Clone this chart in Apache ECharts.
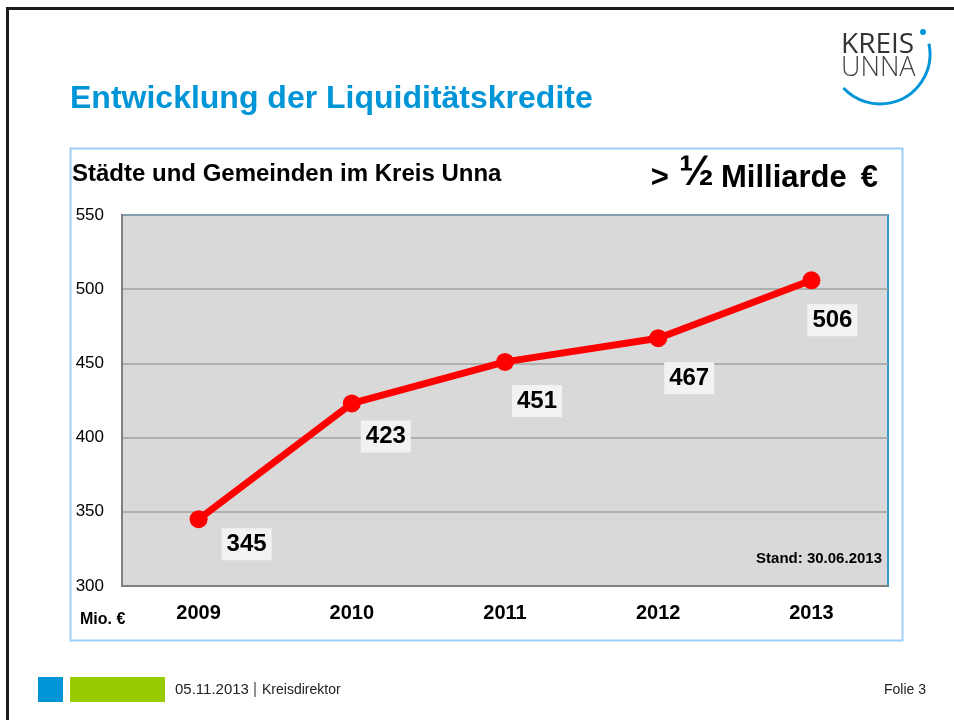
<!DOCTYPE html>
<html>
<head>
<meta charset="utf-8">
<script src="https://cdn.jsdelivr.net/npm/echarts@6/dist/echarts.min.js"></script>
<style>
  html, body { margin: 0; padding: 0; background: #fff; }
  #main { width: 954px; height: 720px; }
</style>
</head>
<body>
<div id="main"></div>
<script>
  // Jahre und Werte (Mio. €)
  var years = ['2009', '2010', '2011', '2012', '2013'];
  var kredite = [345, 423, 451, 467, 506];
  var yTicks = [300, 350, 400, 450, 500, 550];

  // Lage der Wertekästchen relativ zum Punkt
  var labelOffsets = [[48, 25], [34, 33], [32, 39], [31, 40], [21, 40]];

  var font = '"Liberation Sans", Arial, sans-serif';
  var blue = '#0095d6';

  var chart = echarts.init(document.getElementById('main'));

  var seriesData = kredite.map(function (v, i) {
    return {
      value: v,
      label: { offset: labelOffsets[i] }
    };
  });

  var option = {
    backgroundColor: '#fff',
    animation: false,
    grid: {
      left: 122, right: 66, top: 215, bottom: 134,
      show: true,
      backgroundColor: '#d9d9d9',
      borderColor: '#2f9ad4',
      borderWidth: 2
    },
    xAxis: {
      type: 'category',
      data: years,
      boundaryGap: true,
      axisLine: { lineStyle: { color: '#7f7f7f', width: 2 } },
      axisTick: { show: false },
      axisLabel: {
        margin: 17,
        color: '#000',
        fontFamily: font,
        fontWeight: 'bold',
        fontSize: 20
      }
    },
    yAxis: {
      type: 'value',
      min: yTicks[0],
      max: yTicks[yTicks.length - 1],
      interval: 50,
      axisLine: { show: true, lineStyle: { color: '#7f7f7f', width: 2 } },
      axisTick: { show: false },
      splitLine: { lineStyle: { color: '#a0a0a0', width: 1.5 } },
      axisLabel: {
        margin: 18,
        color: '#000',
        fontFamily: font,
        fontSize: 17
      }
    },
    series: [{
      type: 'line',
      data: seriesData,
      symbol: 'circle',
      symbolSize: 18,
      itemStyle: { color: '#ff0000' },
      lineStyle: { color: '#ff0000', width: 7 },
      label: {
        show: true,
        position: 'inside',
        color: '#000',
        fontFamily: font,
        fontWeight: 'bold',
        fontSize: 24,
        backgroundColor: '#f2f2f2',
        padding: [5, 5, 3, 5]
      },
      z: 5
    }],
    graphic: [
      // Folienrahmen
      { type: 'line', shape: { x1: 7.5, y1: 8, x2: 7.5, y2: 720 }, style: { stroke: '#1a1a1a', lineWidth: 3 } },
      { type: 'line', shape: { x1: 6, y1: 8.5, x2: 954, y2: 8.5 }, style: { stroke: '#1a1a1a', lineWidth: 3 } },
      // Logo
      {
        type: 'text', left: 841, top: 31,
        style: { text: 'KREIS', font: '28px "Open Sans", sans-serif', fill: '#333' }
      },
      {
        type: 'text', left: 841, top: 55,
        style: { text: 'UNNA', font: '300 27px "Open Sans", sans-serif', fill: '#444' }
      },
      {
        type: 'arc',
        shape: { cx: 880, cy: 54, r: 50, startAngle: -12 * Math.PI / 180, endAngle: 137 * Math.PI / 180, clockwise: true },
        style: { stroke: blue, lineWidth: 3, fill: null }
      },
      { type: 'circle', shape: { cx: 923, cy: 32, r: 3 }, style: { fill: blue } },
      // Folientitel
      {
        type: 'text', left: 70, top: 83,
        style: { text: 'Entwicklung der Liquiditätskredite', font: 'bold 32px ' + font, fill: blue }
      },
      // Diagrammrahmen
      {
        type: 'rect', shape: { x: 70.5, y: 148.5, width: 832, height: 492 },
        style: { fill: null, stroke: '#9fcdf5', lineWidth: 2 }, z: -1
      },
      {
        type: 'text', left: 72, top: 162,
        style: { text: 'Städte und Gemeinden im Kreis Unna', font: 'bold 24px ' + font, fill: '#000' }
      },
      {
        type: 'text', right: 954 - 878, top: 152,
        style: {
          text: '{a|>}{s1| }{b|½}{s2| }{a|Milliarde}{s3| }{a|€}',
          fill: '#000',
          rich: {
            a: { font: 'bold 31px ' + font, fill: '#000', verticalAlign: 'bottom', lineHeight: 40 },
            s1: { font: 'bold 20px ' + font, width: 10, lineHeight: 40 },
            s2: { font: 'bold 20px ' + font, width: 7, lineHeight: 40 },
            s3: { font: 'bold 20px ' + font, width: 14, lineHeight: 40 },
            b: { font: 'bold 42px ' + font, fill: '#000', verticalAlign: 'bottom', lineHeight: 40 }
          }
        }
      },
      {
        type: 'text', right: 954 - 882, top: 551,
        style: { text: 'Stand: 30.06.2013', font: 'bold 15px ' + font, fill: '#000' }
      },
      {
        type: 'text', left: 80, top: 612,
        style: { text: 'Mio. €', font: 'bold 16px ' + font, fill: '#000' }
      },
      // Fußzeile
      { type: 'rect', shape: { x: 38, y: 677, width: 25, height: 25 }, style: { fill: '#0095d6' } },
      { type: 'rect', shape: { x: 70, y: 677, width: 95, height: 25 }, style: { fill: '#99cc00' } },
      {
        type: 'text', left: 175, top: 682,
        style: { text: '05.11.2013', font: '15px ' + font, fill: '#222' }
      },
      { type: 'line', shape: { x1: 255, y1: 682, x2: 255, y2: 697 }, style: { stroke: '#222', lineWidth: 1 } },
      {
        type: 'text', left: 262, top: 683,
        style: { text: 'Kreisdirektor', font: '14px ' + font, fill: '#222' }
      },
      {
        type: 'text', right: 954 - 926, top: 683,
        style: { text: 'Folie 3', font: '14px ' + font, fill: '#222' }
      }
    ]
  };

  chart.setOption(option);
  window.addEventListener('resize', function () {
    chart.resize();
  });
</script>
</body>
</html>
